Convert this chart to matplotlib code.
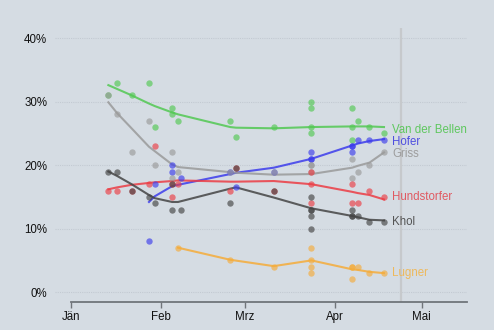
import matplotlib
matplotlib.use("Agg")
import matplotlib.pyplot as plt
import matplotlib.dates as mdates

plt.rcParams['font.family'] = ['Liberation Sans', 'DejaVu Sans']

# poll points per candidate: (date, percent)
vdb_dates = ["2016-01-14", "2016-01-17", "2016-01-22", "2016-01-28", "2016-01-30", "2016-02-05", "2016-02-05",
             "2016-02-07", "2016-02-25", "2016-02-27", "2016-03-11", "2016-03-24", "2016-03-24", "2016-03-24",
             "2016-03-24", "2016-04-07", "2016-04-07", "2016-04-07", "2016-04-09", "2016-04-13", "2016-04-18"]
vdb_vals = [31, 33, 31, 33, 26, 29, 28, 27, 27, 24.5, 26, 30, 29, 26, 25, 29, 26, 24, 27, 26, 25]

hofer_dates = ["2016-01-28", "2016-01-30", "2016-02-05", "2016-02-05", "2016-02-08", "2016-02-25", "2016-02-27",
               "2016-03-11", "2016-03-24", "2016-03-24", "2016-03-24", "2016-04-07", "2016-04-07", "2016-04-07",
               "2016-04-09", "2016-04-13", "2016-04-18"]
hofer_vals = [8, 17, 20, 19, 18, 19, 16.5, 19, 22, 21, 21, 23, 23, 22, 24, 24, 24]

griss_dates = ["2016-01-14", "2016-01-17", "2016-01-22", "2016-01-28", "2016-01-30", "2016-02-05", "2016-02-05",
               "2016-02-07", "2016-02-25", "2016-03-11", "2016-03-24", "2016-03-24", "2016-03-24", "2016-04-07",
               "2016-04-07", "2016-04-09", "2016-04-13", "2016-04-18"]
griss_vals = [31, 28, 22, 27, 20, 22, 18, 19, 19, 19, 20, 20, 19, 21, 18, 19, 20, 22]

hund_dates = ["2016-01-14", "2016-01-17", "2016-01-22", "2016-01-28", "2016-01-30", "2016-02-05", "2016-02-05",
              "2016-02-07", "2016-02-25", "2016-02-27", "2016-03-11", "2016-03-24", "2016-03-24", "2016-03-24",
              "2016-04-07", "2016-04-07", "2016-04-09", "2016-04-13", "2016-04-18"]
hund_vals = [16, 16, 16, 17, 23, 17, 15, 17, 16, 19.5, 16, 19, 17, 14, 17, 14, 14, 16, 15]

khol_dates = ["2016-01-14", "2016-01-17", "2016-01-22", "2016-01-28", "2016-01-30", "2016-02-05", "2016-02-05",
              "2016-02-08", "2016-02-25", "2016-02-27", "2016-03-11", "2016-03-24", "2016-03-24", "2016-03-24",
              "2016-03-24", "2016-03-24", "2016-04-07", "2016-04-07", "2016-04-07", "2016-04-09", "2016-04-13",
              "2016-04-18"]
khol_vals = [19, 19, 16, 15, 14, 17, 13, 13, 14, 19.5, 16, 15, 13, 13, 12, 10, 13, 12, 12, 12, 11, 11]

lugner_dates = ["2016-02-07", "2016-02-25", "2016-03-11", "2016-03-24", "2016-03-24", "2016-03-24", "2016-03-24",
                "2016-04-07", "2016-04-07", "2016-04-07", "2016-04-09", "2016-04-13", "2016-04-18"]
lugner_vals = [7, 5, 4, 7, 5, 4, 3, 4, 4, 2, 4, 3, 3]

# smoothed trend lines
trend_dates = ["2016-01-14", "2016-01-17", "2016-01-22", "2016-01-28", "2016-01-30", "2016-02-05", "2016-02-07",
               "2016-02-25", "2016-02-27", "2016-03-11", "2016-03-24", "2016-04-07", "2016-04-09", "2016-04-13",
               "2016-04-18"]
vdb_trend = [32.6, 32.0, 31.0, 29.7, 29.3, 28.3, 28.0, 26.0, 25.9, 25.8, 26.0, 26.1, 26.1, 26.1, 26.0]
griss_trend = [29.9, 28.2, 25.8, 22.9, 22.2, 20.1, 19.7, 18.9, 18.8, 18.5, 18.6, 19.6, 19.9, 20.4, 22.0]
hund_trend = [16.2, 16.5, 16.9, 17.2, 17.3, 17.5, 17.6, 17.4, 17.4, 17.5, 17.0, 15.8, 15.6, 15.3, 14.6]
khol_trend = [19.0, 18.3, 17.0, 15.3, 14.8, 14.2, 14.2, 16.3, 16.5, 14.9, 13.2, 12.0, 11.8, 11.4, 11.3]
hofer_trend_dates = trend_dates[3:]
hofer_trend = [14.2, 15.1, 16.7, 16.9, 18.6, 18.8, 19.6, 21.0, 23.1, 23.4, 23.8, 24.1]
lugner_trend_dates = ["2016-02-07", "2016-02-25", "2016-03-11", "2016-03-24", "2016-04-07", "2016-04-09",
                      "2016-04-13", "2016-04-18"]
lugner_trend = [7.0, 5.1, 4.1, 5.0, 3.6, 3.5, 3.2, 3.0]

month_ticks = ["2016-01-01", "2016-02-01", "2016-03-01", "2016-04-01", "2016-05-01"]
month_labels = ["Jän", "Feb", "Mrz", "Apr", "Mai"]
election_day = "2016-04-24"
y_ticks = [0, 10, 20, 30, 40]


def d(s):
    return mdates.datestr2num(s) if isinstance(s, str) else [mdates.datestr2num(x) for x in s]


bg = "#d5dce3"
fig = plt.figure(figsize=(4.94, 3.30), dpi=100, facecolor=bg)
ax = fig.add_axes([0.1113, 0.0858, 0.8334, 0.8294], facecolor=bg)

# name, points, trend, point colour, label colour, label nudge (points)
series = [
    ("Van der Bellen", vdb_dates, vdb_vals, trend_dates, vdb_trend, "#52c852", "#5ec75e", 2.8),
    ("Hofer", hofer_dates, hofer_vals, hofer_trend_dates, hofer_trend, "#3c3cec", "#4f4fe0", -1.4),
    ("Griss", griss_dates, griss_vals, trend_dates, griss_trend, "#9a9a9a", "#9d9d9d", -1.2),
    ("Hundstorfer", hund_dates, hund_vals, trend_dates, hund_trend, "#ec3c44", "#e05a62", 0),
    ("Khol", khol_dates, khol_vals, trend_dates, khol_trend, "#444444", "#555555", 0),
    ("Lugner", lugner_dates, lugner_vals, lugner_trend_dates, lugner_trend, "#f5ac3a", "#eeb95c", 0),
]

ax.axvline(d(election_day), color="#c6c9cc", lw=1.6, zorder=1)

for name, pd_, pv, td, tv, col, lcol, dy in series:
    ax.scatter(d(pd_), pv, s=21, color=col, alpha=0.65, lw=0, zorder=3)
    ax.plot(d(td), tv, color=col, lw=1.5, alpha=0.85, zorder=2)
    ax.annotate(name, (d(pd_[-1]), pv[-1]), xytext=(6, dy), textcoords="offset points",
                color=lcol, fontsize=8.3, va="center", ha="left")

x0 = mdates.datestr2num("2016-01-01")
ax.set_xlim(x0 - 5.4, x0 + 136.5)
ax.set_ylim(-1.5, 41.6)

ax.set_yticks(y_ticks)
ax.set_yticklabels([f"{v}%" for v in y_ticks])
ax.set_xticks(d(month_ticks))
ax.set_xticklabels(month_labels)
ax.tick_params(axis="y", length=0, pad=5.5, labelsize=8.3, colors="#111111")
ax.tick_params(axis="x", length=4.5, width=1, color="#70757a", pad=2.5, labelsize=8.3, labelcolor="#111111")
ax.yaxis.grid(True, color="#c3cad2", lw=0.8, ls=(0, (1, 1)))
ax.set_axisbelow(True)

for s in ["top", "right", "left"]:
    ax.spines[s].set_visible(False)
ax.spines["bottom"].set_color("#70757a")
ax.spines["bottom"].set_linewidth(1.3)
ax.spines["bottom"].set_bounds(x0, x0 + 136.5)

fig.savefig("out.png", dpi=100, facecolor=bg)
